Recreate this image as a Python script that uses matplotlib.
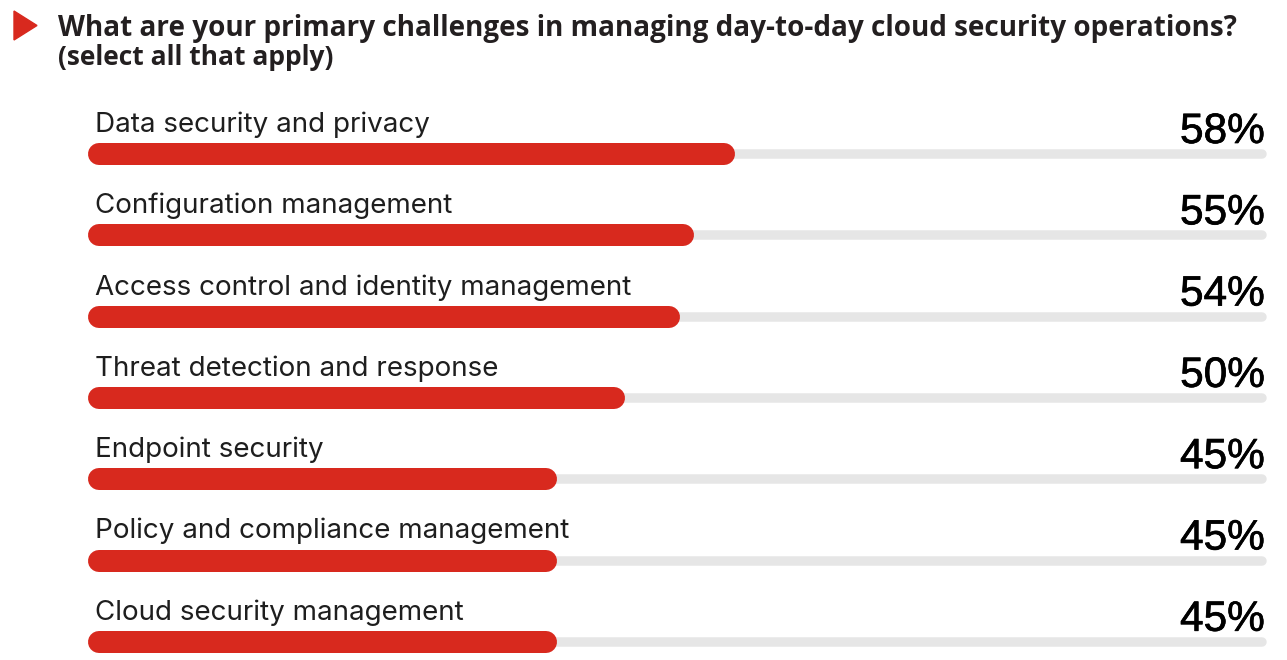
import matplotlib
matplotlib.use("Agg")
import matplotlib.pyplot as plt
from matplotlib.patches import Polygon
import matplotlib.patheffects as pe

# ---- data ----
categories = [
    "Data security and privacy",
    "Configuration management",
    "Access control and identity management",
    "Threat detection and response",
    "Endpoint security",
    "Policy and compliance management",
    "Cloud security management",
]
values = [58, 55, 54, 50, 45, 45, 45]
value_labels = ["58%", "55%", "54%", "50%", "45%", "45%", "45%"]
title = "What are your primary challenges in managing day-to-day cloud security operations?"
subtitle = "(select all that apply)"

# ---- style ----
W, H = 1287, 660
RED = "#D8291E"
TRACK = "#E6E6E6"
DARK = "#1E1E1E"
AX_START, AX_END = 12.35, 97.3

fig = plt.figure(figsize=(W / 100, H / 100), dpi=100)
fig.patch.set_facecolor("white")

x0_px, x1_px = 99, 1262
ax = fig.add_axes([x0_px / W, 0, (x1_px - x0_px) / W, 1])
ax.set_xlim(AX_START, AX_END)
top_px, step_px = 154, 81.3
ax.set_ylim((H - top_px) / step_px, -top_px / step_px)
ax.axis("off")

px2pt = 72 / 100
for i, (cat, v, lab) in enumerate(zip(categories, values, value_labels)):
    ax.plot([AX_START, AX_END], [i, i], color=TRACK, lw=9.5 * px2pt,
            solid_capstyle="round", zorder=1, clip_on=False)
    ax.plot([AX_START, v], [i, i], color=RED, lw=22 * px2pt,
            solid_capstyle="round", zorder=2, clip_on=False)
    ax.annotate(cat, xy=(AX_START, i), xytext=(-4, 22), textcoords="offset pixels",
                ha="left", va="baseline", fontsize=20, family="Inter",
                color=DARK, annotation_clip=False)
    ax.annotate(lab, xy=(AX_END, i), xytext=(3, 11), textcoords="offset pixels",
                ha="right", va="baseline", fontsize=30.5, family="Liberation Sans",
                color="black", annotation_clip=False,
                path_effects=[pe.withStroke(linewidth=0.5, foreground="black")])

# title
fig.text(58 / W, 1 - 36 / H, title, ha="left", va="baseline", fontsize=20.1,
         fontweight="bold", family="Open Sans", color="#231F20")
fig.text(58 / W, 1 - 65 / H, subtitle, ha="left", va="baseline", fontsize=19,
         fontweight="bold", family="Open Sans", color="#231F20")

tri = Polygon([(14 / W, 1 - 11 / H), (14 / W, 1 - 40 / H), (37 / W, 1 - 25.5 / H)],
              closed=True, transform=fig.transFigure, color=RED)
fig.patches.append(tri)

fig.savefig("out.png", dpi=100)
